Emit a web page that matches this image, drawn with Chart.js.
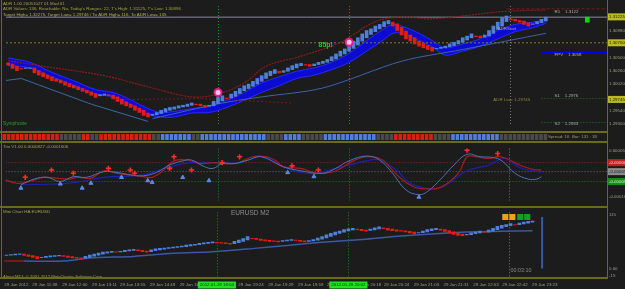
<!DOCTYPE html>
<html>
<head>
<meta charset="utf-8">
<script src="https://cdn.jsdelivr.net/npm/chart.js@4.4.1/dist/chart.umd.min.js"></script>
<style>
  body { margin: 0; background: #1c1c1c; }
  #wrap { position: relative; width: 625px; height: 289px; overflow: hidden; background: #1c1c1c; }
  canvas { position: absolute; left: 0; }
  .rule { position: absolute; background: #6a6a1c; }
</style>
</head>
<body>
<div id="wrap">
  <canvas id="main" width="625" height="131" style="top:0"></canvas>
  <canvas id="strip" width="625" height="6" style="top:134px"></canvas>
  <canvas id="trix" width="625" height="63" style="top:143px"></canvas>
  <canvas id="mini" width="625" height="81" style="top:208px"></canvas>
  <div class="rule" style="left:0;top:131px;width:608px;height:2px"></div>
  <div class="rule" style="left:0;top:141px;width:608px;height:2px"></div>
  <div class="rule" style="left:0;top:206px;width:608px;height:2px"></div>
  <div class="rule" style="left:0;top:277px;width:608px;height:2px"></div>
  <div class="rule" style="left:607px;top:0;width:1px;height:279px"></div>
  <div class="rule" style="left:1px;top:0;width:1px;height:279px"></div>
</div>
<script>
// ---- main window: Heikin-Ashi candles, one per bar index ----
const opens = [
  1.3040,1.3038,1.3034,1.3030,1.3030,1.3030,1.3031,1.3026,1.3022,1.3018,
  1.3015,1.3011,1.3009,1.3006,1.3003,1.3000,1.2997,1.2994,1.2991,1.2988,
  1.2985,1.2981,1.2982,1.2983,1.2982,1.2979,1.2975,1.2970,1.2966,1.2963,
  1.2959,1.2955,1.2950,1.2946,1.2947,1.2949,1.2952,1.2955,1.2957,1.2959,
  1.2961,1.2962,1.2964,1.2966,1.2966,1.2964,1.2962,1.2963,1.2967,1.2972,
  1.2977,1.2977,1.2980,1.2985,1.2990,1.2994,1.2998,1.3002,1.3007,1.3012,
  1.3017,1.3021,1.3025,1.3023,1.3025,1.3028,1.3031,1.3035,1.3037,1.3037,
  1.3035,1.3037,1.3039,1.3041,1.3044,1.3047,1.3052,1.3056,1.3061,1.3066,
  1.3072,1.3079,1.3085,1.3091,1.3096,1.3101,1.3105,1.3110,1.3113,1.3110,
  1.3104,1.3097,1.3090,1.3085,1.3079,1.3075,1.3071,1.3068,1.3065,1.3066,
  1.3067,1.3069,1.3071,1.3074,1.3077,1.3081,1.3085,1.3088,1.3088,1.3086,
  1.3088,1.3093,1.3100,1.3106,1.3114,1.3119,1.3118,1.3116,1.3115,1.3112,
  1.3109,1.3110,1.3112,1.3115];
const closes = [
  1.3036,1.3030,1.3026,1.3029,1.3031,1.3031,1.3022,1.3018,1.3015,1.3012,
  1.3008,1.3007,1.3004,1.3000,1.2997,1.2995,1.2992,1.2989,1.2986,1.2982,
  1.2978,1.2983,1.2984,1.2981,1.2976,1.2971,1.2966,1.2963,1.2960,1.2955,
  1.2951,1.2946,1.2943,1.2948,1.2951,1.2955,1.2958,1.2960,1.2961,1.2963,
  1.2964,1.2966,1.2968,1.2965,1.2963,1.2960,1.2964,1.2971,1.2978,1.2981,
  1.2976,1.2984,1.2989,1.2994,1.2999,1.3002,1.3007,1.3012,1.3017,1.3022,
  1.3025,1.3028,1.3022,1.3026,1.3031,1.3035,1.3038,1.3039,1.3036,1.3034,
  1.3038,1.3041,1.3043,1.3046,1.3051,1.3056,1.3061,1.3065,1.3072,1.3079,
  1.3085,1.3092,1.3098,1.3101,1.3106,1.3109,1.3114,1.3116,1.3106,1.3098,
  1.3090,1.3083,1.3079,1.3074,1.3070,1.3067,1.3064,1.3061,1.3066,1.3068,
  1.3070,1.3074,1.3077,1.3080,1.3085,1.3088,1.3092,1.3087,1.3085,1.3090,
  1.3098,1.3106,1.3113,1.3121,1.3124,1.3117,1.3115,1.3113,1.3109,1.3106,
  1.3110,1.3114,1.3118,1.3122];

// blue cloud around price
const bandIdx = [0,5,10,15,20,24,28,32,35,38,42,46,50,54,58,62,66,70,74,78,82,86,88,90,94,97,100,104,108,112,116,120,123];
const bandHi = [1.3049,1.3041,1.3023,1.3008,1.2992,1.2987,1.2974,1.2958,1.2951,1.2953,1.2958,1.2963,1.2973,1.2987,1.3004,1.3015,1.3025,1.3031,1.3041,1.3057,1.3080,1.3101,1.3109,1.3106,1.3093,1.3080,1.3067,1.3074,1.3083,1.3098,1.3109,1.3113,1.3118];
const bandLo = [1.3035,1.3031,1.3015,1.3000,1.2984,1.2979,1.2966,1.2948,1.2943,1.2943,1.2950,1.2951,1.2960,1.2973,1.2987,1.2999,1.3012,1.3018,1.3028,1.3041,1.3061,1.3082,1.3093,1.3093,1.3080,1.3069,1.3054,1.3061,1.3070,1.3083,1.3096,1.3103,1.3111];

const envelope = [[0,1.3044],[8,1.3034],[22,1.3017],[33,1.2995],[42,1.2979],[48,1.2984],[54,1.3004],[59,1.3034],[67,1.3052],[76,1.3077],[84,1.3114],[90,1.3122],[97,1.3119],[106,1.3126],[113,1.3132],[123,1.3135]];
const redFlat = [[24,1.2974],[44,1.2976],[65,1.2968]];
const channel = [[-1,1.3008],[3,1.3012],[19,1.2966],[32,1.2935]];
const slowMa = [[33,1.2940],[49,1.2968],[58,1.2979],[72,1.2995],[90,1.3043],[104,1.3064],[123,1.3093]];
const signalDots = [[48,1.2987],[78,1.3077]];
const levels = { r1: 1.3122, mid: 1.3076, top: 1.3137, fpv: 1.3058, s1: 1.2976, s2: 1.2933 };
const priceTicks = [1.2930,1.2954,1.2978,1.3002,1.3026,1.3050,1.3074,1.3098,1.3122];

// status strip: runs of cells
const stripState = ['r','g','r','g','r','g','b','g','b','g','b','g','b','g','r','g','b','g'];
const stripLen = [13,5,2,2,12,2,7,2,15,4,4,5,12,4,9,4,11,11];

// ---- Trix window (values in 1e-5) ----
const trixFast = [[3,-10.5],[6,-7.9],[9,-7.1],[12,-9.0],[15,-6.8],[18,-7.1],[22,-4.5],[25,-4.9],[28,-6.0],[31,-6.4],[34,-4.9],[37,-1.5],[40,0.4],[42,0.8],[45,-2.3],[47,-3.0],[49,-0.8],[52,-0.8],[55,0.8],[58,2.3],[63,-2.3],[67,-4.1],[72,-5.3],[75,-3.0],[78,0.4],[82,2.6],[85,0.8],[88,-5.3],[91,-12.8],[94,-15.0],[96,-13.5],[99,-7.9],[102,-1.5],[105,3.4],[108,2.3],[111,1.9],[113,0.4],[116,-5.3],[119,-7.9],[121,-7.9],[122,-6.8]];
const trixSlow = [[-1,-7.9],[2,-9.8],[5,-9.0],[8,-7.1],[11,-7.5],[14,-7.9],[16,-7.1],[19,-7.5],[22,-4.1],[25,-5.3],[28,-6.0],[31,-6.8],[33,-7.1],[35,-4.9],[38,0.4],[41,0.8],[44,-0.8],[47,-0.4],[52,-0.8],[56,2.3],[59,2.3],[61,0.8],[63,-2.3],[67,-3.0],[70,-4.9],[72,-5.3],[75,-4.1],[79,0.4],[82,2.3],[85,1.5],[86,0.4],[90,-7.9],[93,-11.6],[96,-12.4],[99,-11.6],[103,-5.3],[105,2.3],[107,2.3],[110,1.5],[112,2.3],[114,1.5],[117,-1.5],[120,-3.4],[122,-3.8]];
const trixSignal = [[3,-10.5],[14,-9.8],[22,-7.1],[31,-6.0],[37,-2.3],[42,-0.4],[48,-0.4],[53,-0.4],[58,2.3],[63,-2.3],[67,-4.9],[70,-5.3],[75,-3.0],[82,0.4],[85,0.8],[89,-4.1],[92,-9.8],[97,-12.4],[100,-10.9],[105,-4.1],[110,-1.5],[113,1.5],[114,1.5],[117,-2.6],[122,-4.9]];
const trixSells = [[4,-7.1],[10,-3.75],[15,-5.25],[23,-3.0],[28,-3.75],[29,-5.25],[37,-3.0],[38,2.25],[42,-3.75],[49,-0.4],[53,2.25],[65,-1.9],[71,-3.75],[105,5.25],[112,3.75]];
const trixBuys = [[3,-12.0],[12,-10.1],[17,-12.0],[19,-9.75],[26,-7.1],[32,-8.6],[33,-9.4],[40,-7.1],[46,-8.6],[64,-4.9],[70,-6.75],[94,-16.1]];
const trixLevels = [-0.4, -4.5, -9.0];
const trixTicks = [5.0, -16.0];

// ---- mini chart window ----
const miniOpen = [
  28,28.5,29.2,30.1,30.8,29.4,27.7,25.9,23.4,23.7,
  24.9,25.9,27.0,27.7,26.9,25.4,24.2,23.1,22.1,24.0,
  26.5,28.8,30.9,32.9,34.5,35.7,35.4,36.2,37.6,38.8,
  39.9,39.0,37.5,36.2,38.1,40.1,41.5,42.8,43.9,44.9,
  46.0,47.0,48.5,49.8,50.9,52.4,53.7,54.9,55.9,55.5,
  54.7,53.9,52.9,55.5,58.2,61.1,64.6,64.3,63.1,61.6,
  60.3,59.2,58.6,57.8,58.9,60.0,61.0,60.5,59.3,58.1,
  59.1,60.5,62.8,65.4,68.7,71.9,75.0,77.5,80.2,82.6,
  84.3,83.7,82.3,81.2,82.6,84.8,86.9,86.0,84.0,82.5,
  81.3,80.6,79.3,77.7,75.8,76.4,78.2,80.6,82.8,84.4,
  83.2,81.1,78.6,75.8,73.4,71.7,72.3,74.2,76.1,78.0,
  77.5,79.8,82.9,86.4,89.2,91.6,93.8,93.4,95.2,97.1,
  99.0];
const miniClose = [
  29,30,31,31.5,28,26,24,21,24,26,
  27,28,28.5,26,24,23,22,21,26,29,
  31,33,35,36,37,35,37,39,40,41,
  38,36,35,40,42,43,44,45,46,47,
  48,50,51,52,54,55,56,57,55,54,
  53,52,58,61,64,68,64,62,60,59,
  58,58,57,60,61,62,60,58,57,60,
  62,65,68,72,75,78,80,83,85,86,
  83,81,80,84,87,89,85,82,81,80,
  80,78,76,74,77,80,83,85,86,82,
  79,76,73,71,70,73,76,78,80,77,
  82,86,90,92,94,96,93,97,99,101,
  101.5];
const miniMa = [[4,16],[13,16],[19,22.6],[29,26],[38,32.6],[47,36],[56,42.6],[64,49.4],[72,56],[82,62.6],[90,69.4],[97,74],[105,78],[113,79.4],[120,80.6]];
const miniMaStart = [[-1,16],[4,16]];
const squareIdx = [113.8, 115.4, 117.2, 118.8];
const squareColor = ['#f0a010', '#f0a010', '#12a020', '#12a020'];
const miniTicks = [115, 0, -15];

const timeIdx = [-0.5,5.9,12.7,19.5,25.9,32.7,39.5,46.1,52.9,59.7,66.5,73.1,79.7,86.1,92.9,99.7,106.5,113.1,119.9];
const timeLabels = ['29 Jan 2012','29 Jan 11:38','29 Jan 12:00','29 Jan 13:11','29 Jan 13:55','29 Jan 14:49','29 Jan 16:00','29 Jan 17:50','29 Jan 19:24','29 Jan 19:29','29 Jan 19:59','29 Jan 20:00','29 Jan 20:18','29 Jan 20:24','29 Jan 21:03','29 Jan 21:31','29 Jan 22:03','29 Jan 22:42','29 Jan 23:23'];
const separators = [48, 78, 114.7];

const FONT = '"Liberation Sans", Arial, sans-serif';
const SMALL = '4.4px ' + FONT;
const RED = '#e21d12', BLUE = '#4d7fdc', OLIVE = '#a3a348', AXIS = '#9d9d82';
const VLINES = [{ x: separators[0], color: '#1f8f1f' }, { x: separators[1], color: '#1f8f1f' }, { x: separators[2], color: '#7a7a7a' }];

const pairs = arr => arr.map(p => ({ x: p[0], y: p[1] }));
const level = (v, from, to) => [{ x: from, y: v }, { x: to, y: v }];
const X = () => ({ type: 'linear', min: -0.5, max: 137, offset: false, display: false });

function line(data, color, extra) {
  return Object.assign({ type: 'line', data, borderColor: color, borderWidth: 1, pointRadius: 0, order: 5 }, extra || {});
}

function rightAxis(min, max, ticks, fmt) {
  return {
    position: 'right', min, max,
    afterBuildTicks: s => { s.ticks = ticks.map(v => ({ value: v })); },
    afterFit: s => { s.width = 18; s.paddingTop = 0; s.paddingBottom = 0; },
    grid: { display: false, drawTicks: false }, border: { display: false },
    ticks: { color: AXIS, padding: 2, font: { family: FONT, size: 4.4 }, callback: fmt }
  };
}

function overlay(opts) {
  return {
    id: 'overlay',
    beforeDatasetsDraw(chart) {
      const { ctx, chartArea: a, scales } = chart;
      ctx.save();
      ctx.lineWidth = 1;
      ctx.setLineDash([1, 2]);
      (opts.vlines || []).forEach(v => {
        const px = Math.round(scales.x.getPixelForValue(v.x)) + 0.5;
        ctx.strokeStyle = v.color;
        ctx.beginPath(); ctx.moveTo(px, a.top); ctx.lineTo(px, a.bottom); ctx.stroke();
      });
      ctx.restore();
    },
    afterDraw(chart) {
      const { ctx, chartArea: a, scales } = chart;
      ctx.save();
      ctx.textBaseline = 'middle';
      (opts.boxes || []).forEach(b => {
        const py = scales.y.getPixelForValue(b.v);
        ctx.fillStyle = b.bg;
        ctx.fillRect(a.right + 1, py - 3.5, 24, 7);
        ctx.fillStyle = b.fg;
        ctx.font = SMALL;
        ctx.textAlign = 'left';
        ctx.fillText(b.text, a.right + 2, py + 0.3);
      });
      (opts.notes || []).forEach(n => {
        const px = n.xv !== undefined ? scales.x.getPixelForValue(n.xv) : n.x;
        const py = n.yv !== undefined ? scales.y.getPixelForValue(n.yv) : n.y;
        ctx.font = n.font || SMALL;
        ctx.textAlign = n.align || 'left';
        if (n.bg) {
          const w = ctx.measureText(n.text).width;
          ctx.fillStyle = n.bg;
          ctx.fillRect(px - w / 2 - 2, py - 3.5, w + 4, 7);
        }
        ctx.fillStyle = n.color;
        ctx.fillText(n.text, px, py);
      });
      ctx.restore();
    }
  };
}

const base = { responsive: false, animation: false, devicePixelRatio: 1, events: [],
  plugins: { legend: { display: false }, tooltip: { enabled: false } } };

// main window
new Chart(document.getElementById('main'), {
  type: 'bar',
  data: { datasets: [
    { data: closes.map((c, i) => ({ x: i, y: [opens[i], c] })),
      backgroundColor: closes.map((c, i) => (c >= opens[i] ? BLUE : RED)),
      barThickness: 3, grouped: false, order: 1 },
    line(bandIdx.map((x, i) => ({ x, y: bandHi[i] })), '#2a2aff', { tension: 0.35, order: 10 }),
    line(bandIdx.map((x, i) => ({ x, y: bandLo[i] })), '#2a2aff', { tension: 0.35, order: 10, fill: '-1', backgroundColor: '#0b0bd2' }),
    line(pairs(envelope), '#8c1c1c', { tension: 0.35, borderDash: [2, 1], borderWidth: 1.2 }),
    line(pairs(redFlat), '#7a1a1a', { borderDash: [2, 2] }),
    line(pairs(channel), '#3c68a8'),
    line(pairs(slowMa), '#3c64a8', { tension: 0.3 }),
    line(level(levels.r1, -0.5, 137), '#8888a0', { order: 6 }),
    line(level(levels.mid, -0.5, 137), '#7c7c2a', { borderDash: [2, 2], order: 6 }),
    line(level(levels.top, 114, 137), '#7a1a1a', { borderDash: [3, 2], order: 6 }),
    line(level(levels.fpv, 122, 137), '#0000ff', { borderWidth: 2, order: 6 }),
    line(level(levels.s1, 122, 137), '#1f7a1f', { borderDash: [1, 2], order: 6 }),
    line(level(levels.s2, 122, 137), '#1f7a1f', { borderDash: [1, 2], order: 6 }),
    line(pairs(signalDots), '#e0208a', { showLine: false, pointRadius: 3.5, pointBorderWidth: 2,
      pointBorderColor: '#e0208a', pointBackgroundColor: '#f8c8e8', order: 0 }),
    { data: [{ x: 132.5, y: [1.3113, 1.3122] }], backgroundColor: '#00e000', barThickness: 4, grouped: false, order: 1 }
  ] },
  options: Object.assign({}, base, {
    layout: { padding: { left: 2 } },
    scales: { x: X(), y: rightAxis(1.29286, 1.3142, priceTicks, v => v.toFixed(5)) }
  }),
  plugins: [overlay({
    vlines: VLINES,
    boxes: [
      { v: 1.31225, text: '1.31225', bg: '#bcbc22', fg: '#1c1c00' },
      { v: 1.3076, text: '1.30760', bg: '#bcbc22', fg: '#1c1c00' },
      { v: 1.29745, text: '1.29745', bg: '#bcbc22', fg: '#1c1c00' }
    ],
    notes: [
      { x: 3, y: 3.5, text: 'ADR 1.00 20051027 01 Mod 01', color: OLIVE },
      { x: 3, y: 9, text: "ADR Values: 136, Reachable: No, Today's Ranges: 22, T's High: 1.31125, T's Low: 1.30896", color: OLIVE },
      { x: 3, y: 15, text: 'Target High= 1.32275, Target Low= 1.29746 / To ADR High= 116, To ADR Low= 135', color: '#b4b440' },
      { x: 3, y: 124, text: 'Symphonie', color: '#27a027', font: '4.8px ' + FONT },
      { xv: 71, yv: 1.3072, text: '85p!', color: '#2ec42e', font: 'bold 7px ' + FONT },
      { xv: 112, yv: 1.3101, text: 'ADRStart', color: '#a4a4d0' },
      { xv: 125, yv: 1.3132, text: 'R1    1.3122', color: '#b0b0b0' },
      { xv: 125, yv: 1.3055, text: 'FPV    1.3058', color: '#b0b0b0' },
      { xv: 125, yv: 1.2981, text: 'S1    1.2976', color: '#b0b0b0' },
      { xv: 125, yv: 1.2931, text: 'S2    1.2933', color: '#b0b0b0' },
      { xv: 111, yv: 1.2974, text: 'ADR Low: 1.29745', color: '#8c8c30' }
    ]
  })]
});

// status strip
const stripColors = [];
stripState.forEach((s, k) => {
  for (let j = 0; j < stripLen[k]; j++) stripColors.push(s === 'r' ? '#d8200f' : s === 'b' ? '#4f7fd8' : '#4a4a4a');
});
new Chart(document.getElementById('strip'), {
  type: 'bar',
  data: { datasets: [{ data: stripColors.map((c, i) => ({ x: i, y: 1 })), backgroundColor: stripColors,
    barThickness: 3.6, inflateAmount: 0, grouped: false }] },
  options: Object.assign({}, base, {
    layout: { padding: { left: 2, right: 18 } },
    scales: { x: X(), y: { min: 0, max: 1, display: false } }
  }),
  plugins: [overlay({ vlines: VLINES, notes: [{ x: 548, y: 3, text: 'Spread: 16  Bar: 131 : 33', color: '#9a9a7a' }] })]
});

// Trix window
const fmtTrix = v => (v * 1e-5).toFixed(5);
new Chart(document.getElementById('trix'), {
  type: 'line',
  data: { datasets: [
    line(level(trixLevels[0], -0.5, 137), '#a02020', { borderDash: [1, 2], order: 9 }),
    line(level(trixLevels[1], -0.5, 137), '#6e6e6e', { borderDash: [1, 2], order: 9 }),
    line(level(trixLevels[2], -0.5, 137), '#1f7a1f', { borderDash: [1, 2], order: 9 }),
    line(pairs(trixFast), '#5070b4', { tension: 0.4 }),
    line(pairs(trixSlow), '#a41e1e', { tension: 0.4, borderWidth: 1.2 }),
    line(pairs(trixSignal), '#1a22b4', { tension: 0.4, borderWidth: 1.2 }),
    line(pairs(trixSells), '#ff2a2a', { showLine: false, pointStyle: 'cross', pointRadius: 2.6,
      pointBorderWidth: 1.6, pointBorderColor: '#ff2a2a', order: 0 }),
    line(pairs(trixBuys), '#5a8ae8', { showLine: false, pointStyle: 'triangle', pointRadius: 2.3,
      pointBorderColor: '#5a8ae8', pointBackgroundColor: '#5a8ae8', order: 0 })
  ] },
  options: Object.assign({}, base, {
    layout: { padding: { left: 2 } },
    scales: { x: X(), y: rightAxis(-17.625, 6.0, trixTicks, fmtTrix) }
  }),
  plugins: [overlay({
    vlines: VLINES,
    boxes: [
      { v: trixLevels[0], text: fmtTrix(trixLevels[0]), bg: '#c02020', fg: '#f0d0d0' },
      { v: trixLevels[1], text: fmtTrix(trixLevels[1]), bg: '#8c8c8c', fg: '#202020' },
      { v: trixLevels[2], text: fmtTrix(trixLevels[2]), bg: '#129012', fg: '#d0f0d0' }
    ],
    notes: [{ x: 3, y: 4, text: 'Trix V1.00 0.0000827 -0.0001606', color: OLIVE }]
  })]
});

// mini chart window with the time axis
new Chart(document.getElementById('mini'), {
  type: 'bar',
  data: { datasets: [
    { data: miniClose.map((c, i) => ({ x: i, y: [miniOpen[i], c] })),
      backgroundColor: miniClose.map((c, i) => (c >= miniOpen[i] ? BLUE : RED)),
      barThickness: 3, grouped: false, order: 1 },
    line(pairs(miniMaStart), '#8c1c1c', { borderWidth: 1.5 }),
    line(pairs(miniMa), '#3a58a4', { borderWidth: 1.5, tension: 0.3 }),
    line([{ x: 122.2, y: 110 }, { x: 122.2, y: 0 }], '#3a5aa0', { borderWidth: 2 }),
    line(squareIdx.map(x => ({ x, y: 110 })), '#f0a010', { showLine: false, pointStyle: 'rect', pointRadius: 4.3,
      pointBorderWidth: 0, pointBackgroundColor: squareColor, order: 0 })
  ] },
  options: Object.assign({}, base, {
    layout: { padding: { left: 2 } },
    scales: {
      x: { type: 'linear', min: -0.5, max: 137, offset: false, position: 'bottom',
        afterBuildTicks: s => { s.ticks = timeIdx.map(v => ({ value: v })); },
        afterFit: s => { s.height = 11; s.paddingLeft = 0; s.paddingRight = 0; },
        grid: { display: false, drawTicks: false }, border: { display: false },
        ticks: { autoSkip: false, maxRotation: 0, minRotation: 0, align: 'start', padding: 4, color: AXIS,
          font: { family: FONT, size: 4.4 }, callback: (v, i) => timeLabels[i] } },
      y: rightAxis(-20, 120, miniTicks, v => (v === 0 ? '0.00' : String(v)))
    }
  }),
  plugins: [overlay({
    vlines: VLINES,
    notes: [
      { x: 3, y: 3.5, text: 'Mini Chart HA EURUSD', color: OLIVE },
      { x: 231, y: 5, text: 'EURUSD M2', color: '#8e8e8e', font: '6.5px ' + FONT },
      { xv: 115, y: 63, text: '00:03:10', color: '#8a8a8a', font: '5.4px ' + FONT },
      { x: 3, y: 68.5, text: 'Alpari-MT4, \u00a9 2001-2012 MetaQuotes Software Corp.', color: OLIVE, font: '4.2px ' + FONT },
      { xv: separators[0], y: 77, text: '2012.01.29 18:04', color: '#0a300a', bg: '#22e022', align: 'center' },
      { xv: separators[1], y: 77, text: '2012.01.29 20:02', color: '#0a300a', bg: '#22e022', align: 'center' }
    ]
  })]
});
</script>
</body>
</html>
